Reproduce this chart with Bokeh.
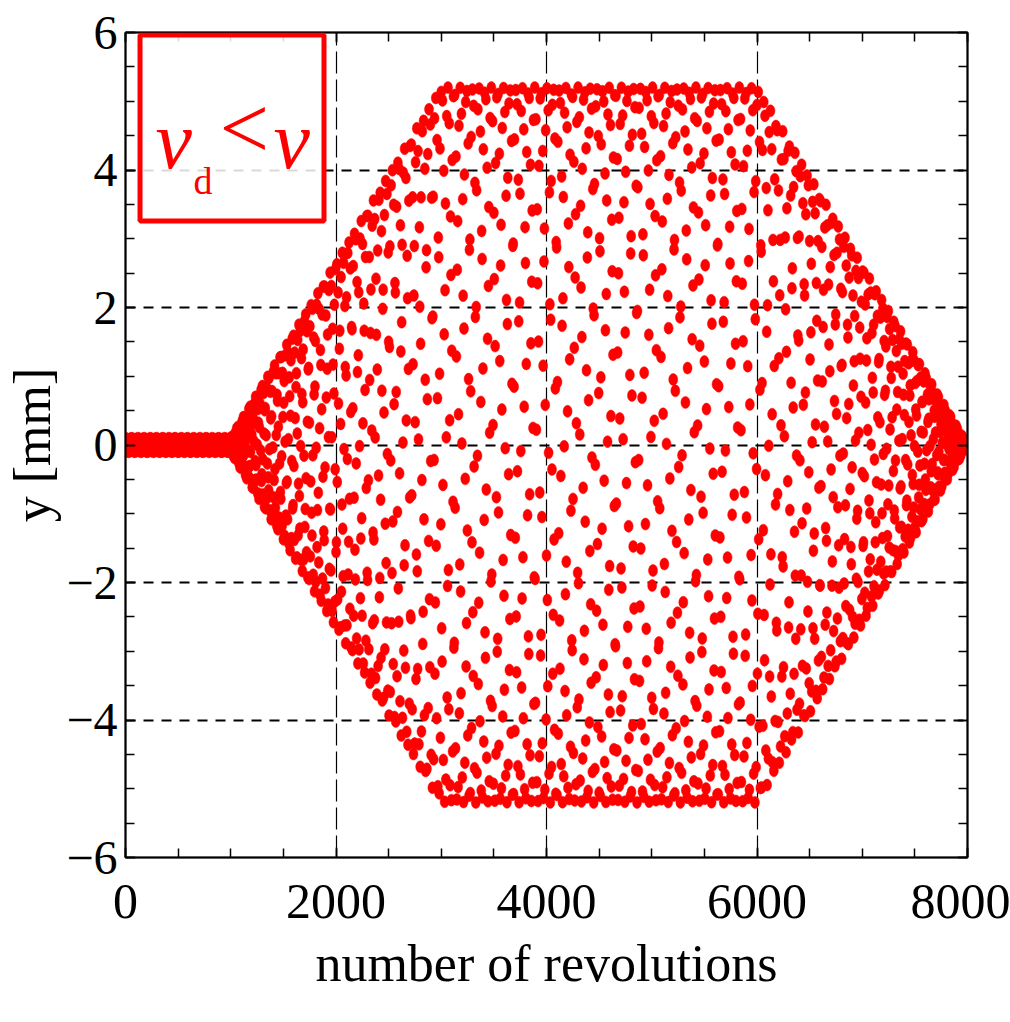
import numpy as np
from bokeh.plotting import figure
from bokeh.models import (ColumnDataSource, SingleIntervalTicker, LinearAxis,
                          BoxAnnotation, Label, CustomJSTickFormatter, Range1d,
                          CustomLabelingPolicy)
from bokeh.embed import file_html
from bokeh.resources import INLINE

# Turn-by-turn vertical position, recorded every 4th revolution
record_step = 4
n_revolutions = 8000
# Oscillation envelope: quiet start, linear ramp up, plateau, linear ramp down
envelope_turns = [0, 1000, 3000, 6000, 8000]
envelope_amp_mm = [0.1, 0.1, 5.2, 5.2, 0.0]
# Fractional phase advance between recorded turns
phase_advance = 0.3107

turns = np.arange(0, n_revolutions + 1, record_step)
amp = np.interp(turns, envelope_turns, envelope_amp_mm)
y_mm = amp * np.cos(2 * np.pi * phase_advance * turns / record_step)
src = ColumnDataSource(dict(turn=turns, y=y_mm))

FONT = "Liberation Serif"

p = figure(frame_width=842, frame_height=825,
           min_border_left=125, min_border_right=43,
           min_border_top=32, min_border_bottom=165,
           x_range=Range1d(0, 8000), y_range=Range1d(-6, 6),
           output_backend="svg", toolbar_location=None,
           x_axis_label="number of revolutions", y_axis_label="y [mm]")
p.background_fill_color = "white"
p.border_fill_color = "white"
p.outline_line_color = "black"
p.outline_line_width = 1.5

xt = SingleIntervalTicker(interval=2000, num_minor_ticks=4)
yt = SingleIntervalTicker(interval=2, num_minor_ticks=4)

minus_fmt = CustomJSTickFormatter(code="return tick < 0 ? '\u2212' + Math.abs(tick) : String(tick);")
no_labels = CustomLabelingPolicy(code="for (const i of indices) indices.unset(i)")

bottom_ax = p.below[0]
left_ax = p.left[0]
bottom_ax.ticker = xt
left_ax.ticker = yt
left_ax.formatter = minus_fmt

top_ax = LinearAxis(ticker=xt, major_label_policy=no_labels)
right_ax = LinearAxis(ticker=yt, major_label_policy=no_labels)
p.add_layout(top_ax, "above")
p.add_layout(right_ax, "right")

for ax in (bottom_ax, left_ax, top_ax, right_ax):
    ax.axis_line_color = "black"
    ax.axis_line_width = 2
    ax.major_tick_line_color = "black"
    ax.minor_tick_line_color = "black"
    ax.major_tick_line_width = 1.5
    ax.minor_tick_line_width = 1.5
    ax.major_tick_in = 10
    ax.major_tick_out = 0
    ax.minor_tick_in = 9
    ax.minor_tick_out = 0
    ax.major_label_text_font = FONT
    ax.major_label_text_color = "black"
    ax.axis_label_text_font = FONT
    ax.axis_label_text_font_style = "normal"
    ax.axis_label_text_color = "black"

bottom_ax.major_label_text_font_size = "50px"
bottom_ax.major_label_standoff = 27
bottom_ax.axis_label_text_font_size = "52px"
bottom_ax.axis_label_standoff = 14

left_ax.major_label_text_font_size = "48px"
left_ax.major_label_standoff = 8
left_ax.axis_label_text_font_size = "52px"
left_ax.axis_label_standoff = 2

p.xgrid.grid_line_color = "black"
p.xgrid.grid_line_dash = "22 6"
p.xgrid.grid_line_width = 1.2
p.ygrid.grid_line_color = "black"
p.ygrid.grid_line_dash = "10 8"
p.ygrid.grid_line_width = 1.8

p.ellipse(x="turn", y="y", width=9, height=12,
          width_units="screen", height_units="screen",
          source=src, fill_color="red", line_color="red", line_width=0.5)

# Legend box with the velocity condition
p.add_layout(BoxAnnotation(left=138, right=1886, bottom=3.258, top=5.964,
                           fill_color="white", fill_alpha=0.85,
                           line_color="red", line_alpha=1.0, line_width=5))

label_specs = [
    dict(x=285, y=4.435, text="v", text_font_size="82px", text_font_style="italic"),
    dict(x=646, y=3.833, text="d", text_font_size="38px", text_font_style="normal"),
    dict(x=893, y=4.6, text="<", text_font_size="88px", text_font_style="normal"),
    dict(x=1406, y=4.435, text="v", text_font_size="82px", text_font_style="italic"),
]
for spec in label_specs:
    p.add_layout(Label(text_font=FONT, text_color="red", text_baseline="alphabetic",
                       text_align="left", **spec))

open("out.html", "w").write(file_html(p, INLINE))
